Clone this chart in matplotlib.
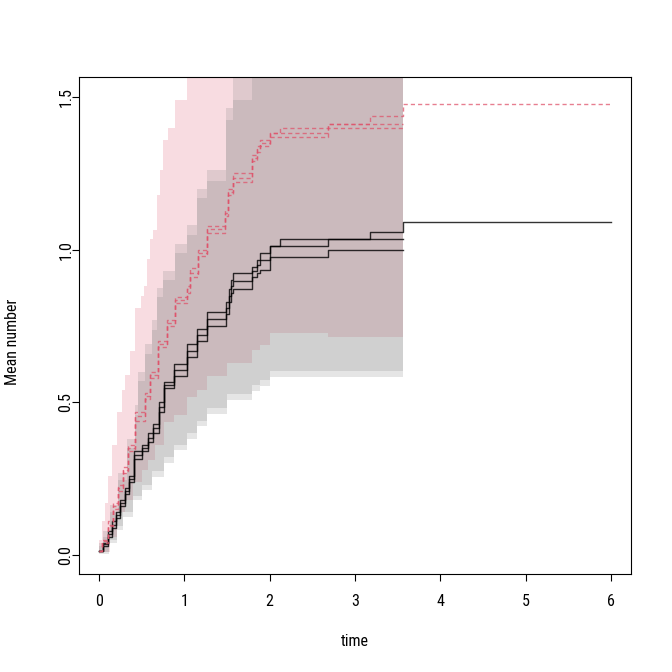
import numpy as np
import matplotlib
matplotlib.use("Agg")
import matplotlib.pyplot as plt
from matplotlib import font_manager
from matplotlib.font_manager import FontProperties

# look for a narrow sans font (R's Helvetica rendering is narrow here)
_narrow = None
for f in font_manager.fontManager.ttflist:
    st = str(f.stretch)
    if (f.name in ('Liberation Sans Narrow', 'DejaVu Sans', 'Roboto Condensed',
                   'Open Sans Condensed', 'Noto Sans', 'Roboto', 'Open Sans')
            and f.style == 'normal' and f.weight in (400, 'normal', 'regular')
            and ('condensed' in st or f.name == 'Liberation Sans Narrow'
                 or st in ('semi-condensed',))):
        _narrow = f.fname
        if f.name == 'Liberation Sans Narrow':
            break

plt.rcParams['font.family'] = ['Liberation Sans', 'DejaVu Sans']

# ---------------- data ----------------
# black group: three step curves
blk_t_shared = [0, 0.05, 0.10, 0.15, 0.20, 0.25, 0.30, 0.35, 0.41, 0.50, 0.57, 0.63, 0.70,
                0.76, 0.88, 1.03, 1.15, 1.27, 1.49, 1.52, 1.55, 1.57, 1.79, 1.85, 1.89]
blk_a_shared = [0.013, 0.04, 0.08, 0.11, 0.14, 0.18, 0.22, 0.26, 0.34, 0.36, 0.40, 0.43, 0.50,
                0.567, 0.626, 0.69, 0.74, 0.796, 0.83, 0.87, 0.90, 0.924, 0.944, 0.966, 0.99]
blk_b_shared = [0.013, 0.035, 0.07, 0.10, 0.13, 0.17, 0.21, 0.25, 0.327, 0.35, 0.385, 0.415, 0.485,
                0.557, 0.605, 0.67, 0.72, 0.773, 0.81, 0.85, 0.88, 0.897, 0.93, 0.95, 0.966]
blk_c_shared = [0.013, 0.03, 0.06, 0.09, 0.12, 0.16, 0.20, 0.24, 0.314, 0.34, 0.37, 0.40, 0.47,
                0.547, 0.585, 0.65, 0.70, 0.75, 0.79, 0.83, 0.86, 0.871, 0.91, 0.925, 0.934]
blk_a_tail_t = [2.00, 2.12, 3.18, 3.56, 6.0]
blk_a_tail_v = [1.012, 1.034, 1.059, 1.090, 1.090]
blk_b_tail_t = [2.00, 2.68, 3.56]
blk_b_tail_v = [1.012, 1.034, 1.034]
blk_c_tail_t = [2.00, 2.68, 3.56]
blk_c_tail_v = [0.977, 0.999, 0.999]

# red group: three step curves
red_t_shared = [0, 0.04, 0.10, 0.16, 0.22, 0.28, 0.34, 0.42, 0.54, 0.60, 0.69, 0.80, 0.89,
                1.03, 1.07, 1.16, 1.27, 1.48, 1.51, 1.57, 1.79, 1.85, 1.89]
red_a_shared = [0.013, 0.05, 0.11, 0.17, 0.23, 0.29, 0.36, 0.47, 0.53, 0.60, 0.70, 0.77, 0.845,
                0.88, 0.94, 1.00, 1.078, 1.13, 1.20, 1.251, 1.31, 1.34, 1.36]
red_b_shared = [0.013, 0.045, 0.10, 0.16, 0.22, 0.28, 0.35, 0.455, 0.52, 0.59, 0.69, 0.76, 0.835,
                0.87, 0.925, 0.99, 1.067, 1.12, 1.19, 1.235, 1.30, 1.33, 1.35]
red_c_shared = [0.013, 0.04, 0.095, 0.15, 0.21, 0.27, 0.34, 0.44, 0.51, 0.58, 0.68, 0.75, 0.825,
                0.86, 0.91, 0.98, 1.055, 1.11, 1.18, 1.222, 1.29, 1.32, 1.34]
red_a_tail_t = [2.00, 2.12, 2.68, 3.18, 3.56, 6.0]
red_a_tail_v = [1.381, 1.40, 1.412, 1.438, 1.477, 1.477]
red_b_tail_t = [2.00, 2.68, 3.56]
red_b_tail_v = [1.381, 1.412, 1.412]
red_c_tail_t = [2.00, 2.68, 3.56]
red_c_tail_v = [1.370, 1.400, 1.400]

band_end = 3.56

# gray bands (black group)
gray_up_t = [0, 0.05, 0.13, 0.22, 0.33, 0.42, 0.46, 0.54, 0.62, 0.68, 0.75, 0.89, 1.03,
             1.15, 1.27, 1.49, 1.57, 1.79]
gray_up_inner = [0.03, 0.06, 0.14, 0.245, 0.35, 0.46, 0.57, 0.66, 0.737, 0.845, 0.90, 0.99, 1.05,
                 1.17, 1.225, 1.425, 1.49, 1.75]
gray_up_outer = [0.04, 0.08, 0.165, 0.27, 0.38, 0.49, 0.60, 0.69, 0.77, 0.875, 0.93, 1.02, 1.08,
                 1.20, 1.26, 1.464, 1.75, 1.75]
gray_lo_t = [0, 0.12, 0.21, 0.28, 0.40, 0.51, 0.62, 0.76, 0.88, 1.03, 1.15, 1.27, 1.50,
             1.79, 1.89, 2.00]
gray_lo_outer = [0.005, 0.04, 0.082, 0.125, 0.18, 0.213, 0.256, 0.30, 0.345, 0.38, 0.423, 0.462,
                 0.508, 0.538, 0.553, 0.584]
gray_lo_inner = [0.01, 0.05, 0.095, 0.14, 0.195, 0.23, 0.275, 0.32, 0.362, 0.40, 0.44, 0.481,
                 0.527, 0.557, 0.573, 0.604]

# pink band (red group)
pink_up_t = [0, 0.035, 0.07, 0.10, 0.15, 0.21, 0.27, 0.30, 0.36, 0.42, 0.49, 0.53, 0.56,
             0.60, 0.63, 0.68, 0.72, 0.75, 0.81, 0.89, 1.03]
pink_up_v = [0.05, 0.11, 0.17, 0.26, 0.36, 0.47, 0.54, 0.59, 0.67, 0.81, 0.85, 0.88, 0.97,
             1.035, 1.065, 1.18, 1.26, 1.36, 1.40, 1.49, 1.80]
pink_lo_t = [0, 0.13, 0.21, 0.30, 0.40, 0.50, 0.58, 0.66, 0.76, 0.88, 1.03, 1.15, 1.27,
             1.50, 1.79, 1.89, 2.00, 2.68]
pink_lo_v = [0.01, 0.06, 0.14, 0.18, 0.24, 0.28, 0.31, 0.36, 0.436, 0.459, 0.518, 0.54, 0.586,
             0.63, 0.671, 0.688, 0.727, 0.714]

x_ticks = [0, 1, 2, 3, 4, 5, 6]
y_ticks = [0.0, 0.5, 1.0, 1.5]
y_tick_labels = ["0.0", "0.5", "1.0", "1.5"]

RED = "#DF536B"

if _narrow is not None:
    FP = FontProperties(fname=_narrow, size=11.5)
else:
    FP = FontProperties(family=['Liberation Sans', 'DejaVu Sans'], size=10.0)

# ---------------- drawing ----------------
def step_eval(ts, vs, x):
    ts = np.asarray(ts, float)
    vs = np.asarray(vs, float)
    idx = np.searchsorted(ts, x, side="right") - 1
    return vs[np.clip(idx, 0, len(vs) - 1)]

def band(ax, t_up, up, t_lo, lo, color, alpha):
    grid = np.unique(np.concatenate([t_up, t_lo, [band_end]]))
    grid = grid[grid <= band_end]
    hi = step_eval(t_up, up, grid)
    lw = step_eval(t_lo, lo, grid)
    ax.fill_between(grid, lw, hi, step="post", color=color, alpha=alpha,
                    linewidth=0, antialiased=False)

fig = plt.figure(figsize=(6.72, 6.72), dpi=100)
ax = fig.add_axes([79/672, 98/672, 552/672, 497/672])

band(ax, pink_up_t, pink_up_v, pink_lo_t, pink_lo_v, RED, 0.2)
band(ax, gray_up_t, gray_up_outer, gray_lo_t, gray_lo_outer, "#7F7F7F", 0.2)
band(ax, gray_up_t, gray_up_inner, gray_lo_t, gray_lo_inner, "#7F7F7F", 0.2)

def curve(ax, t_sh, v_sh, t_tail, v_tail, **kw):
    t = list(t_sh) + list(t_tail)
    v = list(v_sh) + list(v_tail)
    ax.step(t, v, where="post", **kw)

kb = dict(color="black", lw=1.0, alpha=0.8)
curve(ax, blk_t_shared, blk_a_shared, blk_a_tail_t, blk_a_tail_v, **kb)
curve(ax, blk_t_shared, blk_b_shared, blk_b_tail_t, blk_b_tail_v, **kb)
curve(ax, blk_t_shared, blk_c_shared, blk_c_tail_t, blk_c_tail_v, **kb)

kr = dict(color=RED, lw=1.0, alpha=0.75, dashes=(3, 2.2))
curve(ax, red_t_shared, red_a_shared, red_a_tail_t, red_a_tail_v, **kr)
curve(ax, red_t_shared, red_b_shared, red_b_tail_t, red_b_tail_v, **kr)
curve(ax, red_t_shared, red_c_shared, red_c_tail_t, red_c_tail_v, **kr)

ax.set_xlim(-0.234, 6.235)
ax.set_ylim(-0.062, 1.566)
ax.set_xticks(x_ticks)
ax.set_xticklabels([str(v) for v in x_ticks], fontproperties=FP)
ax.set_yticks(y_ticks)
ax.set_yticklabels(y_tick_labels, rotation=90, va="center", ha="center", fontproperties=FP)
ax.tick_params(direction="out", length=5.0, width=0.8)
ax.tick_params(axis="x", pad=9.5)
ax.tick_params(axis="y", pad=4.5)
for s in ax.spines.values():
    s.set_linewidth(0.8)

fig.text(355/672, 1 - 641/672, "time", ha="center", va="center", fontproperties=FP)
fig.text(13/672, 1 - 342/672, "Mean number", ha="center", va="center",
         rotation=90, fontproperties=FP)

fig.savefig("out.png", dpi=100)
